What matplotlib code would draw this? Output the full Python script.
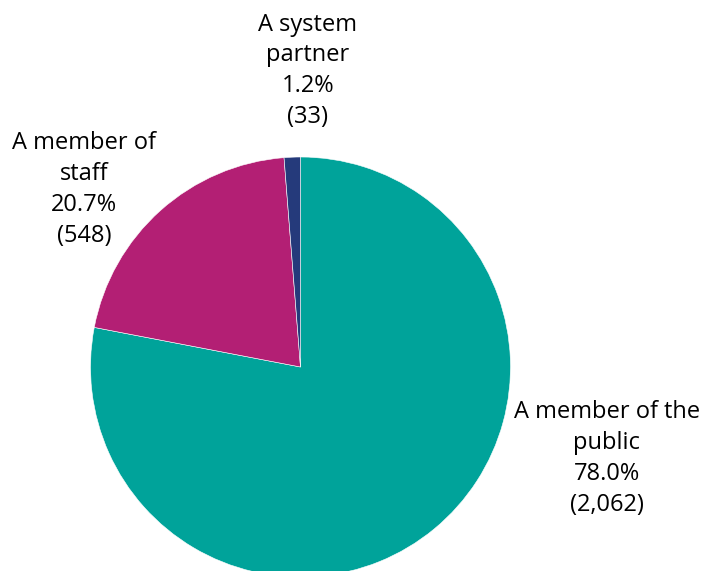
import matplotlib
matplotlib.use("Agg")
import matplotlib.pyplot as plt

# Respondent type breakdown
categories = ["A member of the\npublic", "A member of\nstaff", "A system\npartner"]
counts = [2062, 548, 33]
colors = ["#00A39A", "#B31F74", "#253A7B"]

# label anchor points (in pie radius units), placed by hand like the original
label_pos = [(1.459, -0.435), (-1.03, 0.845), (0.035, 1.41)]

total = sum(counts)

fig = plt.figure(figsize=(7.02, 5.71), dpi=100)
# pie centre sits at about (300, 367) px with a 210 px radius
ax = fig.add_axes([90.5 / 702, (204 - 210) / 571, 420 / 702, 420 / 571])

ax.pie(counts, colors=colors, startangle=90, counterclock=False,
       radius=1.0, wedgeprops=dict(edgecolor="white", linewidth=0.4))
ax.set_xlim(-1, 1)
ax.set_ylim(-1, 1)
ax.set_aspect("equal")
ax.axis("off")

for cat, n, (x, y) in zip(categories, counts, label_pos):
    txt = f"{cat}\n{n / total * 100:.1f}%\n({n:,})"
    ax.text(x, y, txt, ha="center", va="center", fontsize=17,
            family="Open Sans", linespacing=1.38, color="#000000",
            clip_on=False)

fig.savefig("out.png", dpi=100)
